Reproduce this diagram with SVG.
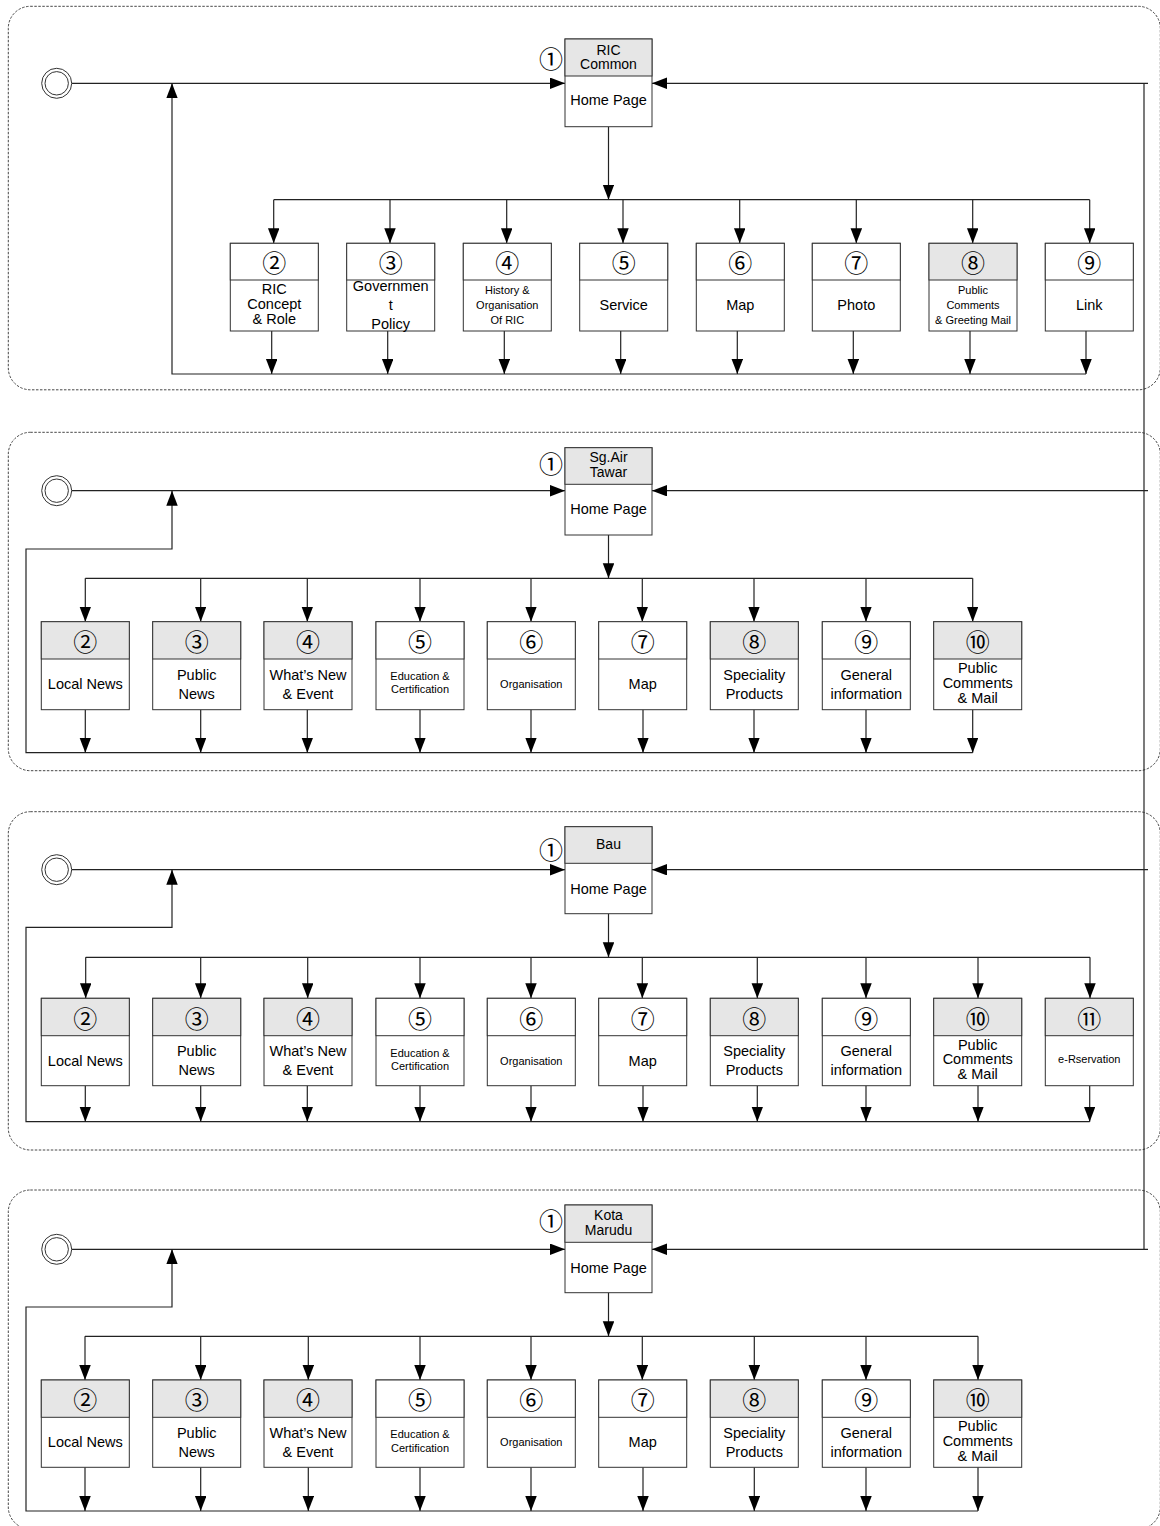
<svg xmlns="http://www.w3.org/2000/svg" width="1160" height="1526" viewBox="0 0 1160 1526">
<defs>
<style>
.fr{fill:none;stroke:#333;stroke-width:0.9;stroke-dasharray:2.5 1.5}
.bx{fill:#fff;stroke:#333;stroke-width:1}
.g{fill:#e6e6e6}
.st{fill:#fff;stroke:#333;stroke-width:1}
.ln{fill:none;stroke:#222;stroke-width:1.2}
text{font-family:"Liberation Sans","Noto Sans CJK JP",sans-serif;text-anchor:middle;dominant-baseline:central;fill:#000}
.t{font-size:14.5px}
.h{font-size:14px}
.s{font-size:11px}
.n{font-family:"Noto Sans CJK JP",sans-serif;font-size:24px}
</style>
<marker id="ah" markerUnits="userSpaceOnUse" markerWidth="16" markerHeight="12" refX="15" refY="5.75" orient="auto">
<path d="M0,0 L15,5.75 L0,11.5 z" fill="#000"/>
</marker>
</defs>

<!-- Frames -->
<g id="frames">
<rect class="fr" x="8.3" y="6.3" width="1152" height="383.5" rx="22"/>
<rect class="fr" x="8.3" y="432.3" width="1152" height="338.4" rx="22"/>
<rect class="fr" x="8.3" y="811.7" width="1152" height="338.3" rx="22"/>
<rect class="fr" x="8.3" y="1190" width="1152" height="339" rx="22"/>
</g>

<!-- Connectors -->
<g id="connectors" class="ln" marker-end="url(#ah)">
<path d="M1144,83.3 V1249.3" marker-end="none"/>
<!-- Section 1 -->
<path d="M71.7,83.3 H565"/>
<path d="M1148,83.3 H652"/>
<path d="M1086,374 H172 V83.3"/>
<path d="M608.5,126.7 V199.7"/>
<path d="M273.7,199.7 H1089.7" marker-end="none"/>
<path d="M273.7,199.7 V243.3"/>
<path d="M390,199.7 V243.3"/>
<path d="M506.7,199.7 V243.3"/>
<path d="M623,199.7 V243.3"/>
<path d="M739.7,199.7 V243.3"/>
<path d="M856.3,199.7 V243.3"/>
<path d="M972.7,199.7 V243.3"/>
<path d="M1089.7,199.7 V243.3"/>
<path d="M271.7,331 V374"/>
<path d="M387.7,331 V374"/>
<path d="M504.3,331 V374"/>
<path d="M620.7,331 V374"/>
<path d="M737.3,331 V374"/>
<path d="M853.3,331 V374"/>
<path d="M970,331 V374"/>
<path d="M1086,331 V374"/>
<!-- Section 2 -->
<path d="M71.7,490.7 H565"/>
<path d="M1148,490.7 H652"/>
<path d="M972.7,752.7 H26 V549 H172 V490.7"/>
<path d="M608.5,535 V578.3"/>
<path d="M85.3,578.3 H972.7" marker-end="none"/>
<path d="M85.3,578.3 V621.7"/>
<path d="M200.7,578.3 V621.7"/>
<path d="M307.3,578.3 V621.7"/>
<path d="M420,578.3 V621.7"/>
<path d="M531,578.3 V621.7"/>
<path d="M642.3,578.3 V621.7"/>
<path d="M754,578.3 V621.7"/>
<path d="M866,578.3 V621.7"/>
<path d="M972.7,578.3 V621.7"/>
<path d="M85.3,709.7 V752.7"/>
<path d="M200.7,709.7 V752.7"/>
<path d="M307.3,709.7 V752.7"/>
<path d="M420,709.7 V752.7"/>
<path d="M531,709.7 V752.7"/>
<path d="M643,709.7 V752.7"/>
<path d="M754,709.7 V752.7"/>
<path d="M866,709.7 V752.7"/>
<path d="M972.7,709.7 V752.7"/>
<!-- Section 3 -->
<path d="M71.7,869.7 H565"/>
<path d="M1148,869.7 H652"/>
<path d="M1089.7,1121.7 H26 V927.3 H172 V869.7"/>
<path d="M608.5,913.7 V957.3"/>
<path d="M85.7,957.3 H1090" marker-end="none"/>
<path d="M85.7,957.3 V998.3"/>
<path d="M200.7,957.3 V998.3"/>
<path d="M307.7,957.3 V998.3"/>
<path d="M420,957.3 V998.3"/>
<path d="M531,957.3 V998.3"/>
<path d="M642.3,957.3 V998.3"/>
<path d="M757.3,957.3 V998.3"/>
<path d="M866,957.3 V998.3"/>
<path d="M978,957.3 V998.3"/>
<path d="M1090,957.3 V998.3"/>
<path d="M85.3,1085.7 V1121.7"/>
<path d="M200.7,1085.7 V1121.7"/>
<path d="M307.3,1085.7 V1121.7"/>
<path d="M420,1085.7 V1121.7"/>
<path d="M531,1085.7 V1121.7"/>
<path d="M643,1085.7 V1121.7"/>
<path d="M757.3,1085.7 V1121.7"/>
<path d="M866,1085.7 V1121.7"/>
<path d="M978,1085.7 V1121.7"/>
<path d="M1089.7,1085.7 V1121.7"/>
<!-- Section 4 -->
<path d="M71.7,1249.3 H565"/>
<path d="M1148,1249.3 H652"/>
<path d="M978,1511 H26 V1307 H172 V1249.3"/>
<path d="M608.5,1292.7 V1336.3"/>
<path d="M85,1336.3 H978" marker-end="none"/>
<path d="M85,1336.3 V1380"/>
<path d="M200.7,1336.3 V1380"/>
<path d="M308.3,1336.3 V1380"/>
<path d="M420,1336.3 V1380"/>
<path d="M531,1336.3 V1380"/>
<path d="M642.3,1336.3 V1380"/>
<path d="M754.3,1336.3 V1380"/>
<path d="M866,1336.3 V1380"/>
<path d="M978,1336.3 V1380"/>
<path d="M85,1467.3 V1511"/>
<path d="M200.7,1467.3 V1511"/>
<path d="M308.3,1467.3 V1511"/>
<path d="M420,1467.3 V1511"/>
<path d="M531,1467.3 V1511"/>
<path d="M643,1467.3 V1511"/>
<path d="M754.3,1467.3 V1511"/>
<path d="M866,1467.3 V1511"/>
<path d="M978,1467.3 V1511"/>
</g>

<!-- Start circles -->
<g id="start1"><circle class="st" cx="56.7" cy="83.3" r="15"/><circle class="st" cx="56.7" cy="83.3" r="11.7"/></g>
<g id="start2"><circle class="st" cx="56.7" cy="490.7" r="15"/><circle class="st" cx="56.7" cy="490.7" r="11.7"/></g>
<g id="start3"><circle class="st" cx="56.7" cy="869.7" r="15"/><circle class="st" cx="56.7" cy="869.7" r="11.7"/></g>
<g id="start4"><circle class="st" cx="56.7" cy="1249.3" r="15"/><circle class="st" cx="56.7" cy="1249.3" r="11.7"/></g>

<!-- ===== Section 1 ===== -->
<g id="s1-home">
<rect class="bx" x="565" y="39" width="87" height="87.7"/>
<rect class="bx g" x="565" y="39" width="87" height="37"/>
<text class="h" x="608.5" y="49.5">RIC</text>
<text class="h" x="608.5" y="64">Common</text>
<text class="t" x="608.5" y="99.5">Home Page</text>
<text class="n" x="551" y="57">①</text>
</g>
<g id="s1-n2">
<rect class="bx" x="230.3" y="243.3" width="88" height="87.7"/><rect class="bx" x="230.3" y="243.3" width="88" height="36.7"/>
<text class="n" x="274.3" y="261.5">②</text>
<text class="t" x="274.3" y="288.7">RIC</text><text class="t" x="274.3" y="304">Concept</text><text class="t" x="274.3" y="319.3">&amp; Role</text>
</g>
<g id="s1-n3">
<rect class="bx" x="346.7" y="243.3" width="88" height="87.7"/><rect class="bx" x="346.7" y="243.3" width="88" height="36.7"/>
<text class="n" x="390.7" y="261.5">③</text>
<text class="t" x="390.7" y="286">Governmen</text><text class="t" x="390.7" y="305">t</text><text class="t" x="390.7" y="324">Policy</text>
</g>
<g id="s1-n4">
<rect class="bx" x="463.3" y="243.3" width="88" height="87.7"/><rect class="bx" x="463.3" y="243.3" width="88" height="36.7"/>
<text class="n" x="507.3" y="261.5">④</text>
<text class="s" x="507.3" y="290">History &amp;</text><text class="s" x="507.3" y="305">Organisation</text><text class="s" x="507.3" y="319.7">Of RIC</text>
</g>
<g id="s1-n5">
<rect class="bx" x="579.7" y="243.3" width="88" height="87.7"/><rect class="bx" x="579.7" y="243.3" width="88" height="36.7"/>
<text class="n" x="623.7" y="261.5">⑤</text>
<text class="t" x="623.7" y="305">Service</text>
</g>
<g id="s1-n6">
<rect class="bx" x="696.3" y="243.3" width="88" height="87.7"/><rect class="bx" x="696.3" y="243.3" width="88" height="36.7"/>
<text class="n" x="740.3" y="261.5">⑥</text>
<text class="t" x="740.3" y="305">Map</text>
</g>
<g id="s1-n7">
<rect class="bx" x="812.3" y="243.3" width="88" height="87.7"/><rect class="bx" x="812.3" y="243.3" width="88" height="36.7"/>
<text class="n" x="856.3" y="261.5">⑦</text>
<text class="t" x="856.3" y="305">Photo</text>
</g>
<g id="s1-n8">
<rect class="bx" x="929" y="243.3" width="88" height="87.7"/><rect class="bx g" x="929" y="243.3" width="88" height="36.7"/>
<text class="n" x="973" y="261.5">⑧</text>
<text class="s" x="973" y="290">Public</text><text class="s" x="973" y="305">Comments</text><text class="s" x="973" y="320">&amp; Greeting Mail</text>
</g>
<g id="s1-n9">
<rect class="bx" x="1045.3" y="243.3" width="88" height="87.7"/><rect class="bx" x="1045.3" y="243.3" width="88" height="36.7"/>
<text class="n" x="1089.3" y="261.5">⑨</text>
<text class="t" x="1089.3" y="305">Link</text>
</g>

<!-- ===== Section 2 ===== -->
<g id="s2-home">
<rect class="bx" x="565" y="447.7" width="87" height="87.3"/>
<rect class="bx g" x="565" y="447.7" width="87" height="36.6"/>
<text class="h" x="608.5" y="457">Sg.Air</text>
<text class="h" x="608.5" y="472">Tawar</text>
<text class="t" x="608.5" y="508.5">Home Page</text>
<text class="n" x="551" y="462">①</text>
</g>
<g id="s2-n2"><rect class="bx" x="41.3" y="621.7" width="88" height="88"/><rect class="bx g" x="41.3" y="621.7" width="88" height="37.3"/>
<text class="n" x="85.3" y="640">②</text><text class="t" x="85.3" y="684">Local News</text></g>
<g id="s2-n3"><rect class="bx" x="152.7" y="621.7" width="88" height="88"/><rect class="bx g" x="152.7" y="621.7" width="88" height="37.3"/>
<text class="n" x="196.7" y="640">③</text><text class="t" x="196.7" y="675">Public</text><text class="t" x="196.7" y="694">News</text></g>
<g id="s2-n4"><rect class="bx" x="264" y="621.7" width="88" height="88"/><rect class="bx g" x="264" y="621.7" width="88" height="37.3"/>
<text class="n" x="308" y="640">④</text><text class="t" x="308" y="675">What’s New</text><text class="t" x="308" y="694">&amp; Event</text></g>
<g id="s2-n5"><rect class="bx" x="376" y="621.7" width="88" height="88"/><rect class="bx" x="376" y="621.7" width="88" height="37.3"/>
<text class="n" x="420" y="640">⑤</text><text class="s" x="420" y="676">Education &amp;</text><text class="s" x="420" y="689.3">Certification</text></g>
<g id="s2-n6"><rect class="bx" x="487.3" y="621.7" width="88" height="88"/><rect class="bx" x="487.3" y="621.7" width="88" height="37.3"/>
<text class="n" x="531.3" y="640">⑥</text><text class="s" x="531.3" y="684.3">Organisation</text></g>
<g id="s2-n7"><rect class="bx" x="598.7" y="621.7" width="88" height="88"/><rect class="bx" x="598.7" y="621.7" width="88" height="37.3"/>
<text class="n" x="642.7" y="640">⑦</text><text class="t" x="642.7" y="684.3">Map</text></g>
<g id="s2-n8"><rect class="bx" x="710.3" y="621.7" width="88" height="88"/><rect class="bx g" x="710.3" y="621.7" width="88" height="37.3"/>
<text class="n" x="754.3" y="640">⑧</text><text class="t" x="754.3" y="675">Speciality</text><text class="t" x="754.3" y="694">Products</text></g>
<g id="s2-n9"><rect class="bx" x="822.3" y="621.7" width="88" height="88"/><rect class="bx" x="822.3" y="621.7" width="88" height="37.3"/>
<text class="n" x="866.3" y="640">⑨</text><text class="t" x="866.3" y="675">General</text><text class="t" x="866.3" y="694">information</text></g>
<g id="s2-n10"><rect class="bx" x="933.7" y="621.7" width="88" height="88"/><rect class="bx g" x="933.7" y="621.7" width="88" height="37.3"/>
<text class="n" x="977.7" y="640">⑩</text><text class="t" x="977.7" y="668.3">Public</text><text class="t" x="977.7" y="683.3">Comments</text><text class="t" x="977.7" y="697.5">&amp; Mail</text></g>

<!-- ===== Section 3 ===== -->
<g id="s3-home">
<rect class="bx" x="565" y="826.7" width="87" height="87"/>
<rect class="bx g" x="565" y="826.7" width="87" height="36.6"/>
<text class="h" x="608.5" y="843.5">Bau</text>
<text class="t" x="608.5" y="888.5">Home Page</text>
<text class="n" x="551" y="848">①</text>
</g>
<g id="s3-n2"><rect class="bx" x="41.3" y="998.3" width="88" height="87.4"/><rect class="bx g" x="41.3" y="998.3" width="88" height="37.4"/>
<text class="n" x="85.3" y="1017">②</text><text class="t" x="85.3" y="1060.7">Local News</text></g>
<g id="s3-n3"><rect class="bx" x="152.7" y="998.3" width="88" height="87.4"/><rect class="bx g" x="152.7" y="998.3" width="88" height="37.4"/>
<text class="n" x="196.7" y="1017">③</text><text class="t" x="196.7" y="1051.3">Public</text><text class="t" x="196.7" y="1070">News</text></g>
<g id="s3-n4"><rect class="bx" x="264" y="998.3" width="88" height="87.4"/><rect class="bx g" x="264" y="998.3" width="88" height="37.4"/>
<text class="n" x="308" y="1017">④</text><text class="t" x="308" y="1051.3">What’s New</text><text class="t" x="308" y="1070">&amp; Event</text></g>
<g id="s3-n5"><rect class="bx" x="376" y="998.3" width="88" height="87.4"/><rect class="bx" x="376" y="998.3" width="88" height="37.4"/>
<text class="n" x="420" y="1017">⑤</text><text class="s" x="420" y="1052.5">Education &amp;</text><text class="s" x="420" y="1065.7">Certification</text></g>
<g id="s3-n6"><rect class="bx" x="487.3" y="998.3" width="88" height="87.4"/><rect class="bx" x="487.3" y="998.3" width="88" height="37.4"/>
<text class="n" x="531.3" y="1017">⑥</text><text class="s" x="531.3" y="1060.7">Organisation</text></g>
<g id="s3-n7"><rect class="bx" x="598.7" y="998.3" width="88" height="87.4"/><rect class="bx" x="598.7" y="998.3" width="88" height="37.4"/>
<text class="n" x="642.7" y="1017">⑦</text><text class="t" x="642.7" y="1060.7">Map</text></g>
<g id="s3-n8"><rect class="bx" x="710.3" y="998.3" width="88" height="87.4"/><rect class="bx g" x="710.3" y="998.3" width="88" height="37.4"/>
<text class="n" x="754.3" y="1017">⑧</text><text class="t" x="754.3" y="1051.3">Speciality</text><text class="t" x="754.3" y="1070">Products</text></g>
<g id="s3-n9"><rect class="bx" x="822.3" y="998.3" width="88" height="87.4"/><rect class="bx" x="822.3" y="998.3" width="88" height="37.4"/>
<text class="n" x="866.3" y="1017">⑨</text><text class="t" x="866.3" y="1051.3">General</text><text class="t" x="866.3" y="1070">information</text></g>
<g id="s3-n10"><rect class="bx" x="933.7" y="998.3" width="88" height="87.4"/><rect class="bx g" x="933.7" y="998.3" width="88" height="37.4"/>
<text class="n" x="977.7" y="1017">⑩</text><text class="t" x="977.7" y="1045">Public</text><text class="t" x="977.7" y="1059">Comments</text><text class="t" x="977.7" y="1073.5">&amp; Mail</text></g>
<g id="s3-n11"><rect class="bx" x="1045.3" y="998.3" width="88" height="87.4"/><rect class="bx g" x="1045.3" y="998.3" width="88" height="37.4"/>
<text class="n" x="1089.3" y="1017">⑪</text><text class="s" x="1089.3" y="1059">e-Rservation</text></g>

<!-- ===== Section 4 ===== -->
<g id="s4-home">
<rect class="bx" x="565" y="1205" width="87" height="87.7"/>
<rect class="bx g" x="565" y="1205" width="87" height="37.3"/>
<text class="h" x="608.5" y="1214.5">Kota</text>
<text class="h" x="608.5" y="1230">Marudu</text>
<text class="t" x="608.5" y="1267.7">Home Page</text>
<text class="n" x="551" y="1219.5">①</text>
</g>
<g id="s4-n2"><rect class="bx" x="41.3" y="1380" width="88" height="87.3"/><rect class="bx g" x="41.3" y="1380" width="88" height="37.3"/>
<text class="n" x="85.3" y="1398.7">②</text><text class="t" x="85.3" y="1441.7">Local News</text></g>
<g id="s4-n3"><rect class="bx" x="152.7" y="1380" width="88" height="87.3"/><rect class="bx g" x="152.7" y="1380" width="88" height="37.3"/>
<text class="n" x="196.7" y="1398.7">③</text><text class="t" x="196.7" y="1432.7">Public</text><text class="t" x="196.7" y="1452.3">News</text></g>
<g id="s4-n4"><rect class="bx" x="264" y="1380" width="88" height="87.3"/><rect class="bx g" x="264" y="1380" width="88" height="37.3"/>
<text class="n" x="308" y="1398.7">④</text><text class="t" x="308" y="1432.7">What’s New</text><text class="t" x="308" y="1452.3">&amp; Event</text></g>
<g id="s4-n5"><rect class="bx" x="376" y="1380" width="88" height="87.3"/><rect class="bx" x="376" y="1380" width="88" height="37.3"/>
<text class="n" x="420" y="1398.7">⑤</text><text class="s" x="420" y="1434.3">Education &amp;</text><text class="s" x="420" y="1447.7">Certification</text></g>
<g id="s4-n6"><rect class="bx" x="487.3" y="1380" width="88" height="87.3"/><rect class="bx" x="487.3" y="1380" width="88" height="37.3"/>
<text class="n" x="531.3" y="1398.7">⑥</text><text class="s" x="531.3" y="1442.3">Organisation</text></g>
<g id="s4-n7"><rect class="bx" x="598.7" y="1380" width="88" height="87.3"/><rect class="bx" x="598.7" y="1380" width="88" height="37.3"/>
<text class="n" x="642.7" y="1398.7">⑦</text><text class="t" x="642.7" y="1442.3">Map</text></g>
<g id="s4-n8"><rect class="bx" x="710.3" y="1380" width="88" height="87.3"/><rect class="bx g" x="710.3" y="1380" width="88" height="37.3"/>
<text class="n" x="754.3" y="1398.7">⑧</text><text class="t" x="754.3" y="1432.7">Speciality</text><text class="t" x="754.3" y="1452.3">Products</text></g>
<g id="s4-n9"><rect class="bx" x="822.3" y="1380" width="88" height="87.3"/><rect class="bx" x="822.3" y="1380" width="88" height="37.3"/>
<text class="n" x="866.3" y="1398.7">⑨</text><text class="t" x="866.3" y="1432.7">General</text><text class="t" x="866.3" y="1452.3">information</text></g>
<g id="s4-n10"><rect class="bx" x="933.7" y="1380" width="88" height="87.3"/><rect class="bx g" x="933.7" y="1380" width="88" height="37.3"/>
<text class="n" x="977.7" y="1398.7">⑩</text><text class="t" x="977.7" y="1426">Public</text><text class="t" x="977.7" y="1441">Comments</text><text class="t" x="977.7" y="1456">&amp; Mail</text></g>
</svg>
